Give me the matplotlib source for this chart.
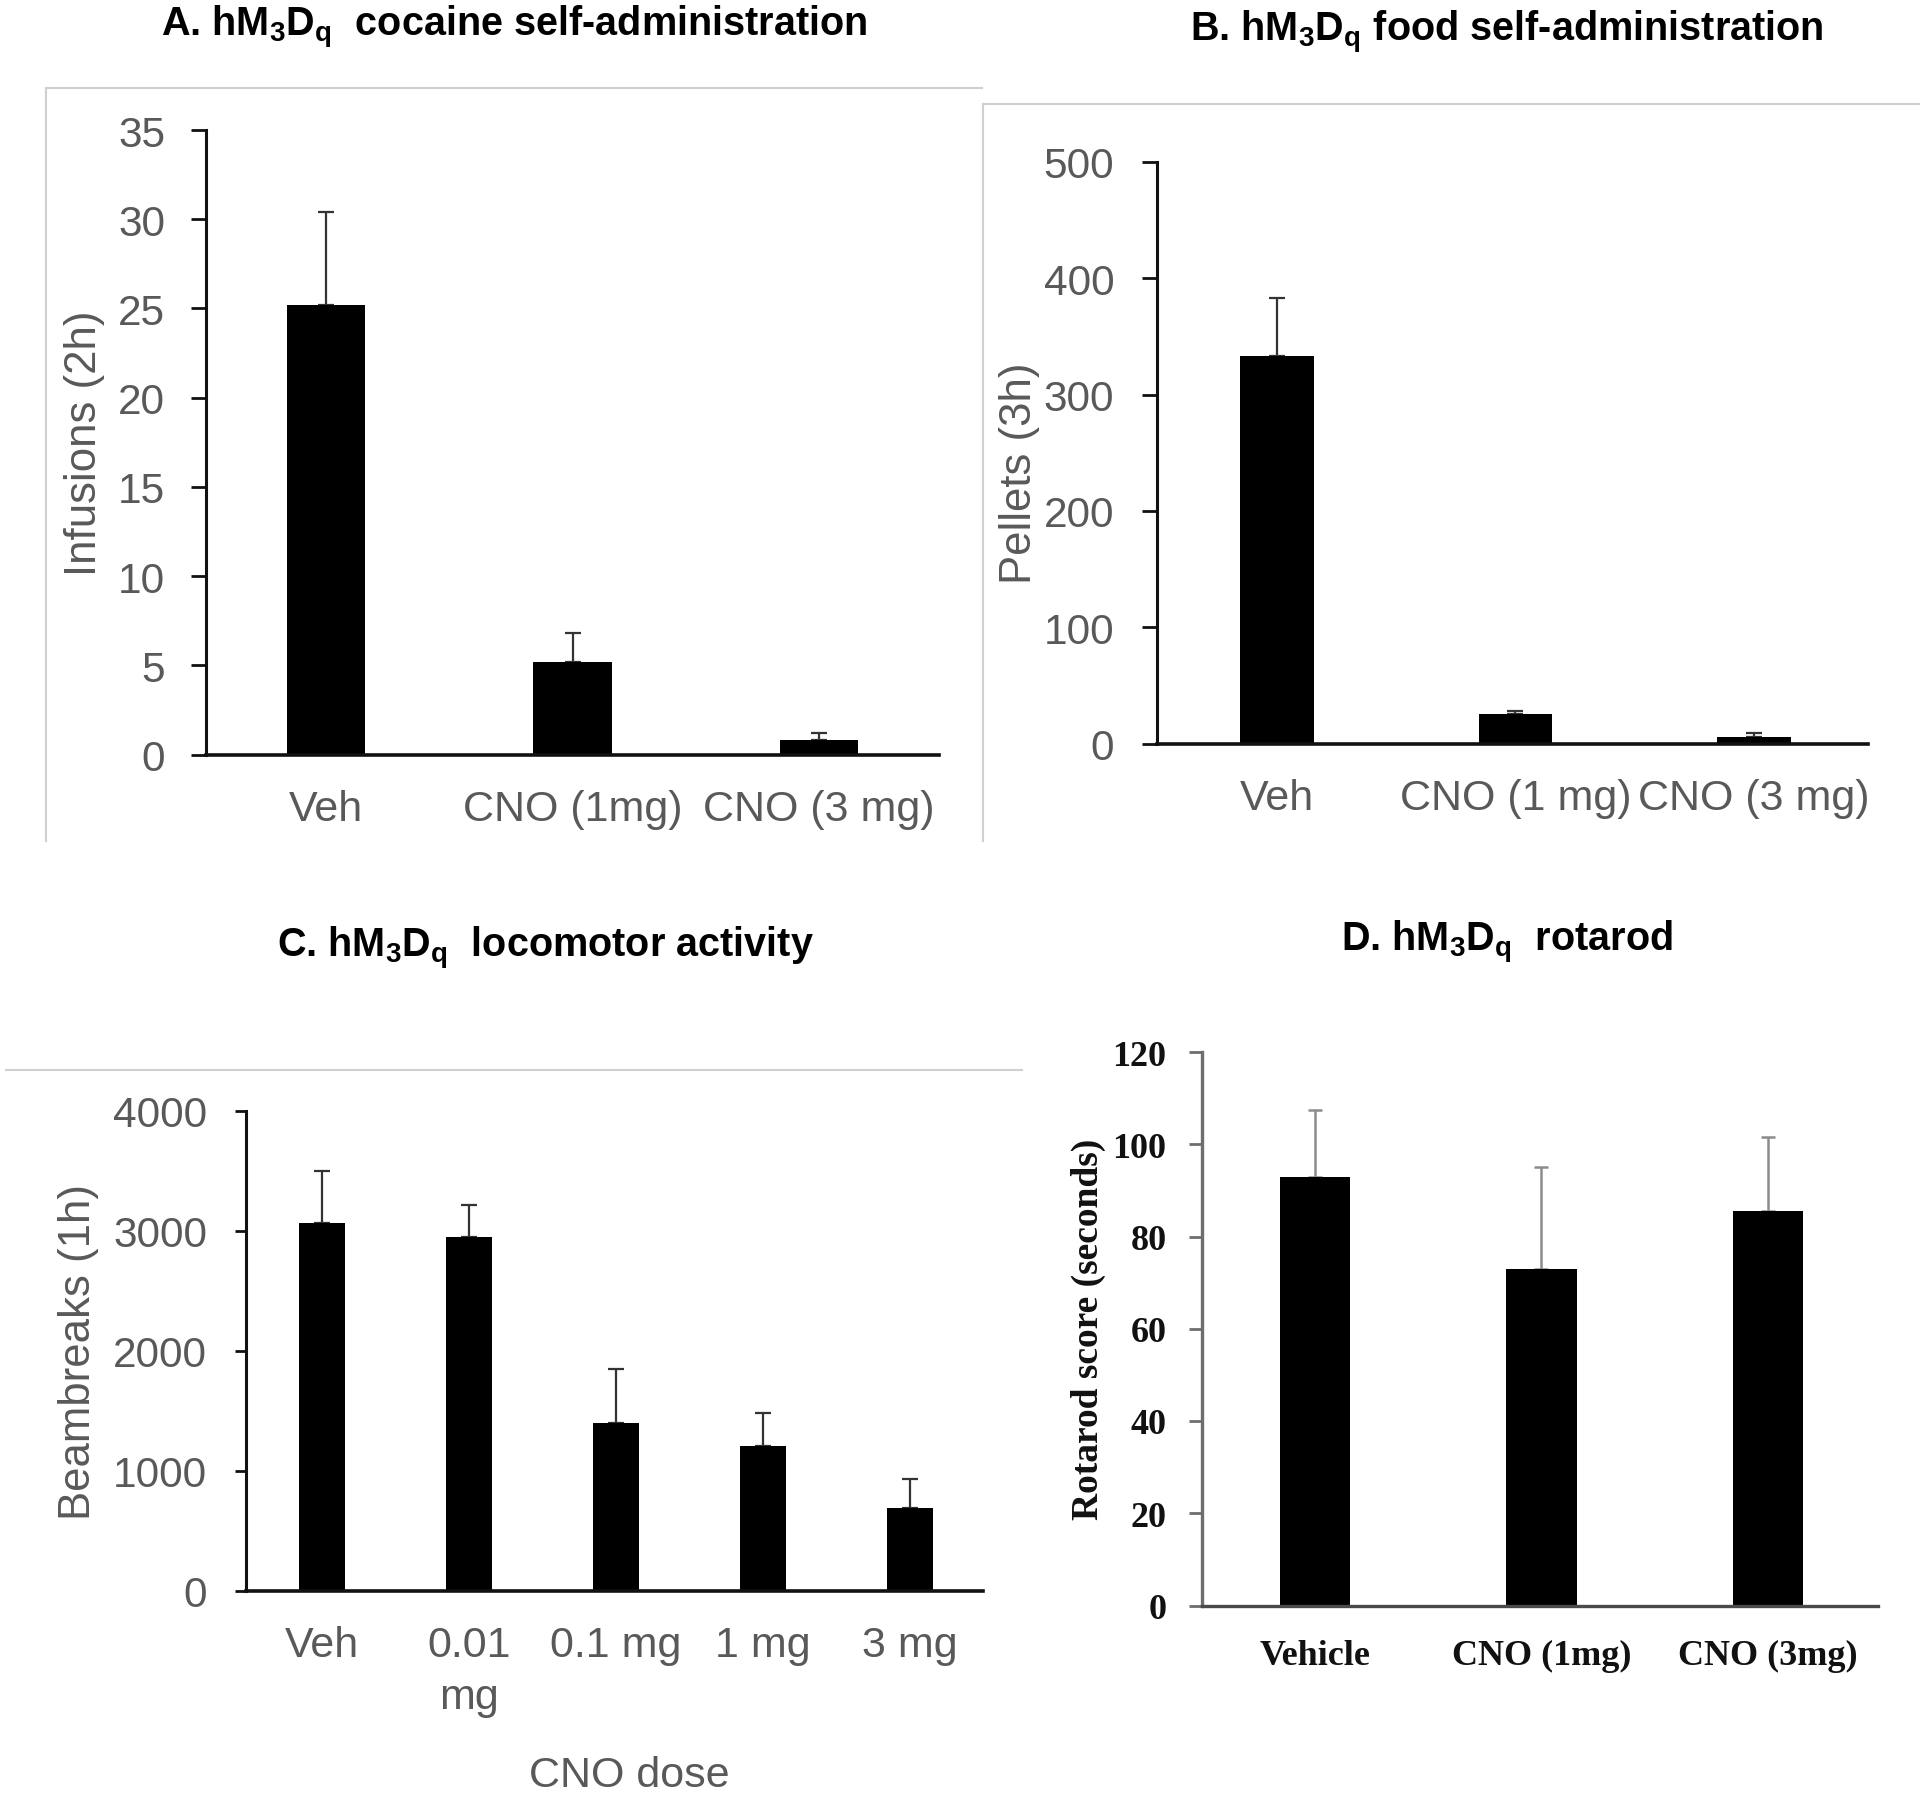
import matplotlib
matplotlib.use("Agg")
import matplotlib.pyplot as plt
from matplotlib.lines import Line2D
import numpy as np

plt.rcParams['mathtext.fontset'] = 'custom'
plt.rcParams['mathtext.rm'] = 'Liberation Sans:bold'
plt.rcParams['mathtext.it'] = 'Liberation Sans:bold'
plt.rcParams['mathtext.bf'] = 'Liberation Sans:bold'

# ---- data ----
a_labels = ["Veh", "CNO (1mg)", "CNO (3 mg)"]
a_means = [25.2, 5.2, 0.8]
a_err = [5.2, 1.6, 0.4]
a_ticks = [0, 5, 10, 15, 20, 25, 30, 35]

b_labels = ["Veh", "CNO (1 mg)", "CNO (3 mg)"]
b_means = [333, 25, 6]
b_err = [50, 3, 3]
b_ticks = [0, 100, 200, 300, 400, 500]

c_labels = ["Veh", "0.01\nmg", "0.1 mg", "1 mg", "3 mg"]
c_means = [3070, 2950, 1400, 1210, 690]
c_err = [430, 270, 450, 270, 240]
c_ticks = [0, 1000, 2000, 3000, 4000]

d_labels = ["Vehicle", "CNO (1mg)", "CNO (3mg)"]
d_means = [93, 73, 85.5]
d_err = [14.5, 22, 16]
d_ticks = [0, 20, 40, 60, 80, 100, 120]

W, H = 1920, 1799
fig = plt.figure(figsize=(W / 100, H / 100), dpi=100)

def px_axes(left, top, right, bottom):
    return fig.add_axes([left / W, 1 - bottom / H, (right - left) / W, (bottom - top) / H])

GRAY = "#595959"

def sans_panel(ax, labels, means, err, ticks, xlim, width, ylabel, lab_xy,
               xpad, ypad, ticklen, fs=31):
    x = np.arange(len(labels))
    ax.bar(x, means, width=width, color="black", zorder=2)
    ax.errorbar(x, means, yerr=[np.zeros(len(err)), err], fmt="none", ecolor="#333333",
                elinewidth=1.6, capsize=6, capthick=1.6, zorder=1)
    ax.set_xlim(*xlim)
    ax.set_ylim(ticks[0], ticks[-1])
    ax.set_yticks(ticks)
    ax.set_xticks(x)
    ax.set_xticklabels(labels, fontsize=fs, color=GRAY, family="Liberation Sans", linespacing=1.4)
    ax.set_yticklabels([str(t) for t in ticks], fontsize=fs - 0.5, color=GRAY, family="Liberation Sans")
    ax.tick_params(axis="x", length=0, pad=xpad)
    ax.tick_params(axis="y", length=ticklen, width=2.0, color="#111111", pad=ypad)
    for s in ["top", "right"]:
        ax.spines[s].set_visible(False)
    ax.spines["left"].set_linewidth(2.2)
    ax.spines["bottom"].set_linewidth(2.6)
    ax.spines["left"].set_color("#111111")
    ax.spines["bottom"].set_color("#111111")
    ax.set_ylabel(ylabel, fontsize=fs + 0.5, color=GRAY, family="Liberation Sans")
    ax.yaxis.label.set_va("center")
    ax.yaxis.set_label_coords(*lab_xy)

# Panel A
axA = px_axes(206, 131, 939, 755.5)
sans_panel(axA, a_labels, a_means, a_err, a_ticks, (-0.487, 2.487), 0.32,
           "Infusions (2h)", (-0.1664, 0.5), 25, 18.5, 10.8)

# Panel B
axB = px_axes(1157, 163, 1868, 744.5)
sans_panel(axB, b_labels, b_means, b_err, b_ticks, (-0.503, 2.478), 0.31,
           "Pellets (3h)", (-0.194, 0.467), 25, 20, 10.8)

# Panel C
axC = px_axes(246, 1112, 983, 1592)
sans_panel(axC, c_labels, c_means, c_err, c_ticks, (-0.517, 4.497), 0.31,
           "Beambreaks (1h)", (-0.2266, 0.5), 24.5, 20, 8)
axC.set_xlabel("CNO dose", fontsize=31, color=GRAY, family="Liberation Sans", labelpad=27)
axC.xaxis.label.set_x(0.52)

# Panel D
axD = px_axes(1202, 1053, 1878, 1606.5)
xd = np.arange(len(d_labels))
axD.bar(xd, d_means, width=0.31, color="black", zorder=2)
axD.errorbar(xd, d_means, yerr=[np.zeros(len(d_err)), d_err], fmt="none", ecolor="#8c8c8c",
             elinewidth=1.8, capsize=5, capthick=1.8, zorder=1)
axD.set_xlim(-0.499, 2.486)
axD.set_ylim(d_ticks[0], d_ticks[-1])
axD.set_yticks(d_ticks)
axD.set_xticks(xd)
axD.set_xticklabels(d_labels, fontsize=26, fontweight="bold", family="Liberation Serif", color="#111111")
axD.set_yticklabels([str(t) for t in d_ticks], fontsize=26, fontweight="bold", family="Liberation Serif", color="#111111")
axD.tick_params(axis="x", length=0, pad=24)
axD.tick_params(axis="y", length=9.5, width=2.0, color="#6e6e6e", pad=16)
for s in ["top", "right"]:
    axD.spines[s].set_visible(False)
axD.spines["left"].set_color("#6e6e6e")
axD.spines["bottom"].set_color("#4a4a4a")
axD.spines["left"].set_linewidth(2.4)
axD.spines["bottom"].set_linewidth(2.4)
axD.set_ylabel("Rotarod score (seconds)", fontsize=27, fontweight="bold", family="Liberation Serif", color="#111111")
axD.yaxis.label.set_va("center")
axD.yaxis.set_label_coords(-0.1686, 0.501)

# Titles
tkw = dict(ha="center", va="center", fontsize=28.5, fontweight="bold", family="Liberation Sans")
fig.text(514 / W, 1 - 27 / H, r"A. hM$_3$D$_q$  cocaine self-administration", **tkw)
fig.text(1507 / W, 1 - 32 / H, r"B. hM$_3$D$_q$ food self-administration", **tkw)
fig.text(545 / W, 1 - 949 / H, r"C. hM$_3$D$_q$  locomotor activity", **tkw)
fig.text(1507 / W, 1 - 943 / H, r"D. hM$_3$D$_q$  rotarod", **tkw)

# Grey frame lines
LG = "#d0d0d0"
def fline(x0, y0, x1, y1):
    fig.add_artist(Line2D([x0 / W, x1 / W], [1 - y0 / H, 1 - y1 / H], color=LG, lw=1.5))

fline(46, 89, 982, 89)
fline(46, 89, 46, 842)
fline(983, 105, 1920, 105)
fline(983, 105, 983, 842)
fline(6, 1071, 1022, 1071)

fig.savefig("out.png", dpi=100)
